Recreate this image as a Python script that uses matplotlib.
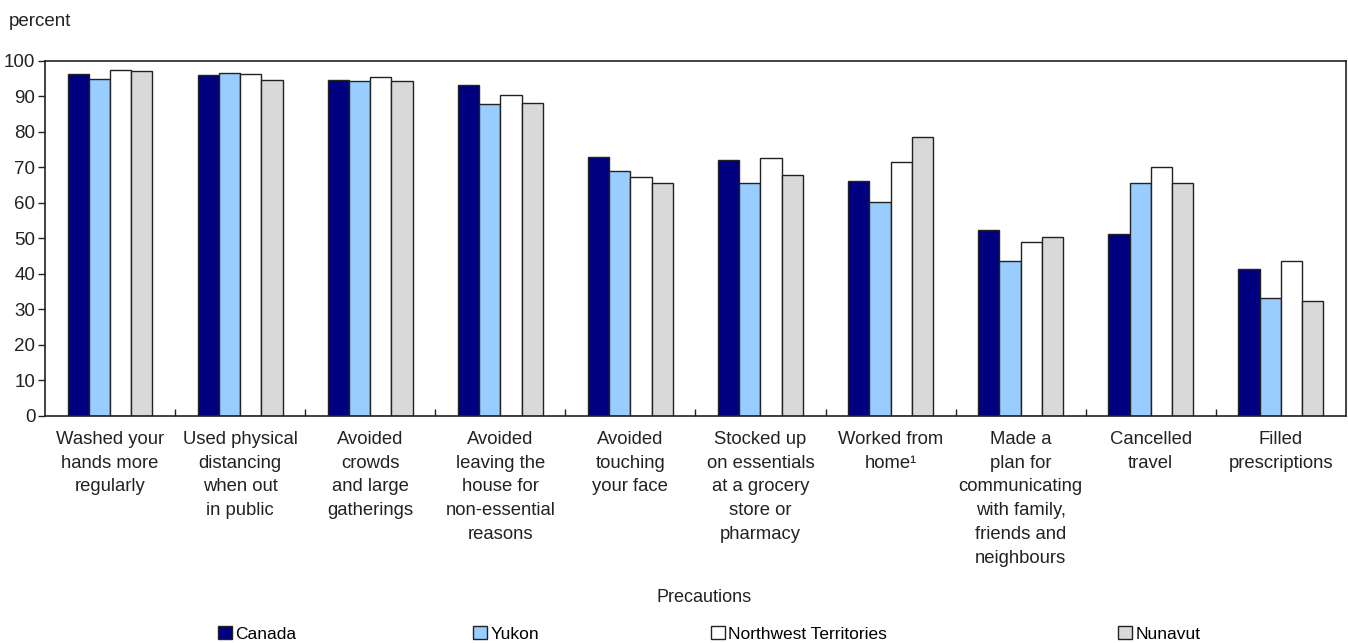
import numpy as np
import matplotlib
matplotlib.use("Agg")
import matplotlib.pyplot as plt

plt.rcParams['font.family'] = ['Liberation Sans Narrow', 'Liberation Sans', 'DejaVu Sans']

# data
categories = [
    "Washed your\nhands more\nregularly",
    "Used physical\ndistancing\nwhen out\nin public",
    "Avoided\ncrowds\nand large\ngatherings",
    "Avoided\nleaving the\nhouse for\nnon-essential\nreasons",
    "Avoided\ntouching\nyour face",
    "Stocked up\non essentials\nat a grocery\nstore or\npharmacy",
    "Worked from\nhome\u00b9",
    "Made a\nplan for\ncommunicating\nwith family,\nfriends and\nneighbours",
    "Cancelled\ntravel",
    "Filled\nprescriptions",
]
series_names = ["Canada", "Yukon", "Northwest Territories", "Nunavut"]
canada = [96.4, 95.9, 94.7, 93.2, 73.0, 72.0, 66.0, 52.3, 51.1, 41.2]
yukon = [95.0, 96.6, 94.4, 87.8, 69.0, 65.6, 60.2, 43.7, 65.6, 33.2]
nwt = [97.5, 96.2, 95.5, 90.3, 67.3, 72.5, 71.4, 48.9, 70.1, 43.7]
nunavut = [97.1, 94.6, 94.4, 88.2, 65.6, 67.7, 78.5, 50.4, 65.5, 32.2]
yticks = list(range(0, 101, 10))

colors = ["#000080", "#99ccff", "#ffffff", "#d9d9d9"]
txt = "#222222"

fig = plt.figure(figsize=(13.48, 6.43), dpi=100)
ax = fig.add_axes([0.0334, 0.3535, 0.965, 0.552])

x = np.arange(len(categories))
w = 0.163
bars = []
for i, (vals, name) in enumerate(zip([canada, yukon, nwt, nunavut], series_names)):
    b = ax.bar(x + (i - 1.5) * w, vals, width=w, color=colors[i], edgecolor=txt,
               linewidth=1.0, label=name, zorder=2)
    bars.append(b)

ax.set_xlim(-0.5, len(categories) - 0.5)
ax.set_ylim(0, 100)
ax.set_yticks(yticks)
ax.tick_params(axis='y', labelsize=13.5, length=5, width=1, color=txt, labelcolor=txt, pad=2)

# x labels centred under groups, ticks between groups
ax.set_xticks(x)
ax.set_xticklabels(categories, fontsize=13.3, color=txt, linespacing=1.52)
ax.tick_params(axis='x', length=0, pad=11)
ax.set_xticks(x[:-1] + 0.5, minor=True)
ax.tick_params(axis='x', which='minor', length=5, width=1, direction='in', color=txt)

for s in ax.spines.values():
    s.set_linewidth(1.2)
    s.set_color(txt)

fig.text(9 / 1348, 1 - 21 / 643, "percent", fontsize=13.5, color=txt, va="center")
fig.text(704 / 1348, 1 - 597 / 643, "Precautions", fontsize=13, color=txt, ha="center", va="center")

# legend entries placed one by one, as in the reference
legend_x = [218, 473, 711, 1118]
for b, name, lx in zip(bars, series_names, legend_x):
    fig.legend([b], [name], loc="center left", bbox_to_anchor=(lx / 1348, 1 - 634 / 643),
               frameon=False, fontsize=12.5, handlelength=0.8, handleheight=0.8,
               handletextpad=0.2, borderaxespad=0, borderpad=0)

fig.savefig("out.png", dpi=100)
